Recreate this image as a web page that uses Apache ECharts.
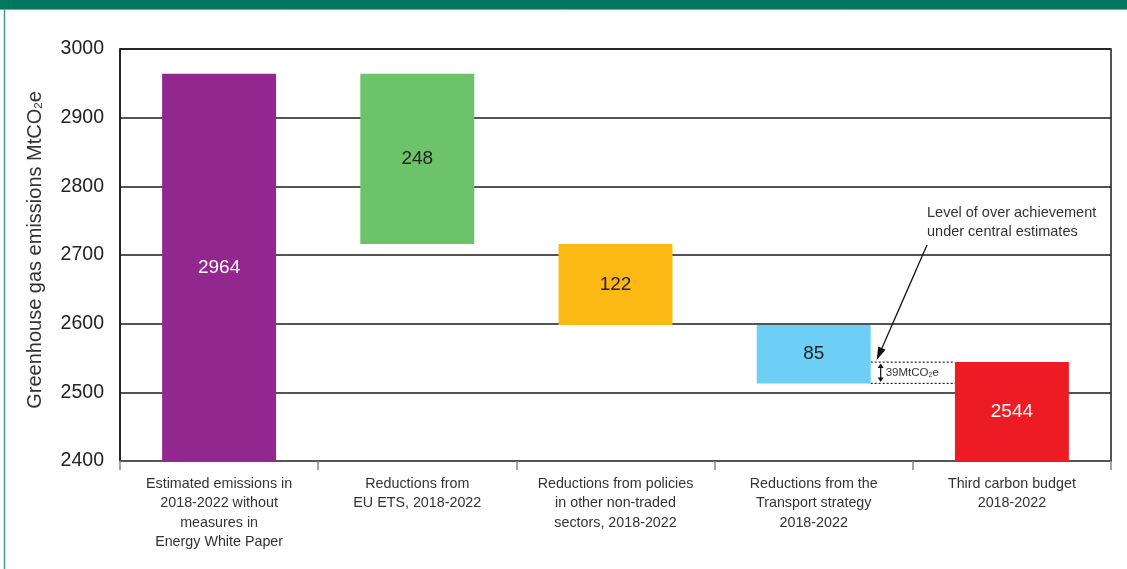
<!DOCTYPE html>
<html>
<head>
<meta charset="utf-8">
<script src="https://cdn.jsdelivr.net/npm/echarts@6/dist/echarts.min.js"></script>
<style>
  html, body { margin: 0; padding: 0; background: #fff; }
  #chart { width: 1127px; height: 569px; }
</style>
</head>
<body>
<div id="chart"></div>
<script>
// categories (x axis)
var categories = [
  'Estimated emissions in\n2018-2022 without\nmeasures in\nEnergy White Paper',
  'Reductions from\nEU ETS, 2018-2022',
  'Reductions from policies\nin other non-traded\nsectors, 2018-2022',
  'Reductions from the\nTransport strategy\n2018-2022',
  'Third carbon budget\n2018-2022'
];
// floating bars: bottom and top of each bar (MtCO2e)
var barLow  = [2400, 2716, 2598, 2513, 2400];
var barHigh = [2964, 2964, 2716, 2598, 2544];
// printed values
var barLabels = ['2964', '248', '122', '85', '2544'];
var barColors = ['#92278f', '#6cc36a', '#fdb913', '#6dcff6', '#ed1c24'];
var labelColors = ['#ffffff', '#222222', '#222222', '#222222', '#ffffff'];
// y axis ticks
var yMin = 2400, yMax = 3000, yStep = 100;
var gapText = '39';

var chart = echarts.init(document.getElementById('chart'));
var font = '"Liberation Sans", Arial, Helvetica, sans-serif';

var baseData = barLow.slice();
var barData = barHigh.map(function (h, i) {
  return {
    value: h - barLow[i],
    itemStyle: { color: barColors[i] },
    label: { color: labelColors[i] }
  };
});

var option = {
  animation: false,
  textStyle: { fontFamily: font },
  grid: {
    left: 120, right: 16, top: 49, bottom: 108,
    show: true, borderColor: '#1a1a1a', borderWidth: 1.5
  },
  xAxis: {
    type: 'category',
    data: categories,
    axisLine: { lineStyle: { color: '#555', width: 2 } },
    axisTick: { show: true, length: 9, interval: 0, lineStyle: { color: '#888', width: 1.5 } },
    axisLabel: {
      interval: 0, color: '#333', fontSize: 14.3, lineHeight: 19.5, margin: 13,
      fontFamily: font
    }
  },
  yAxis: {
    type: 'value',
    min: yMin, max: yMax, interval: yStep,
    name: 'Greenhouse gas emissions MtCO{sub|2}e',
    nameLocation: 'middle',
    nameGap: 75,
    nameTextStyle: {
      color: '#333', fontSize: 20, fontFamily: font,
      padding: [0, 0, 0, 10],
      rich: { sub: { fontSize: 11.5, color: '#333', verticalAlign: 'bottom', padding: [8, 0, 0, 0] } }
    },
    axisLine: { show: true, lineStyle: { color: '#1a1a1a', width: 1.5 } },
    axisTick: { show: false },
    splitLine: { lineStyle: { color: '#1a1a1a', width: 1.5 } },
    axisLabel: {
      color: '#222', fontSize: 19.5, margin: 16, fontFamily: font,
      formatter: function (v) { return String(v); }
    }
  },
  series: [
    {
      type: 'bar',
      stack: 'w',
      data: baseData,
      itemStyle: { color: 'transparent' },
      barWidth: '57.5%',
      silent: true
    },
    {
      type: 'bar',
      stack: 'w',
      data: barData,
      barWidth: '57.5%',
      label: {
        show: true,
        position: 'inside',
        fontSize: 19,
        fontFamily: font,
        formatter: function (p) { return barLabels[p.dataIndex]; }
      }
    }
  ]
};
chart.setOption(option);

// annotation, placed from the axes
var c4 = chart.convertToPixel({ xAxisIndex: 0 }, 3);
var c5 = chart.convertToPixel({ xAxisIndex: 0 }, 4);
var barW = (c5 - c4) * 0.575;
var right4 = c4 + barW / 2;
var left5 = c5 - barW / 2;
var yTop = chart.convertToPixel({ yAxisIndex: 0 }, barHigh[4]);
var yBot = chart.convertToPixel({ yAxisIndex: 0 }, barLow[3]);
var ax = right4 + 10;

var sx = 927, sy = 245, tx = right4 + 6, ty = yTop - 2;
var dx = tx - sx, dy = ty - sy, len = Math.sqrt(dx * dx + dy * dy);
var ux = dx / len, uy = dy / len, nx = -uy, ny = ux;
var bx = tx - ux * 13, by = ty - uy * 13;

chart.setOption({
  graphic: [
    { type: 'rect', shape: { x: 0, y: 0, width: 1127, height: 9 }, style: { fill: '#00785f' }, silent: true },
    { type: 'line', shape: { x1: 0, y1: 9.5, x2: 1127, y2: 9.5 }, style: { stroke: '#6db3a3', lineWidth: 1 }, silent: true },
    { type: 'line', shape: { x1: 4.5, y1: 9, x2: 4.5, y2: 569 }, style: { stroke: '#3a9c86', lineWidth: 1.5 }, silent: true },
    { type: 'line', shape: { x1: right4, y1: yTop, x2: left5, y2: yTop }, style: { stroke: '#222', lineWidth: 1.2, lineDash: [2, 2] } },
    { type: 'line', shape: { x1: right4, y1: yBot, x2: left5, y2: yBot }, style: { stroke: '#222', lineWidth: 1.2, lineDash: [2, 2] } },
    { type: 'line', shape: { x1: ax, y1: yTop + 4, x2: ax, y2: yBot - 4 }, style: { stroke: '#111', lineWidth: 1.2 } },
    { type: 'polygon', shape: { points: [[ax, yTop + 1.5], [ax - 3, yTop + 6], [ax + 3, yTop + 6]] }, style: { fill: '#111' } },
    { type: 'polygon', shape: { points: [[ax, yBot - 1.5], [ax - 3, yBot - 6], [ax + 3, yBot - 6]] }, style: { fill: '#111' } },
    {
      type: 'text', x: ax + 5, y: (yTop + yBot) / 2,
      style: {
        text: gapText + 'MtCO{s|2}e', fill: '#333', fontSize: 11.5, fontFamily: font,
        verticalAlign: 'middle',
        rich: { s: { fontSize: 7, fill: '#333', padding: [5, 0, 0, 0] } }
      }
    },
    { type: 'line', shape: { x1: sx, y1: sy, x2: bx, y2: by }, style: { stroke: '#111', lineWidth: 1.3 } },
    { type: 'polygon', shape: { points: [[tx, ty], [bx + nx * 4, by + ny * 4], [bx - nx * 4, by - ny * 4]] }, style: { fill: '#111' } },
    {
      type: 'text', x: 927, y: 204,
      style: {
        text: 'Level of over achievement\nunder central estimates',
        fill: '#333', fontSize: 14.5, lineHeight: 18.5, fontFamily: font
      }
    }
  ]
});
</script>
</body>
</html>
